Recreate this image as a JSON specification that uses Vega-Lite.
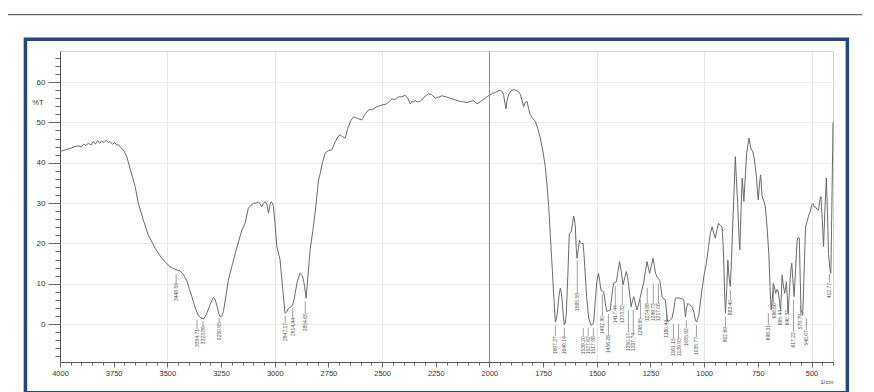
{
"$schema": "https://vega.github.io/schema/vega-lite/v6.json",
"width": 773, "height": 311,
"autosize": {"type": "none"},
"padding": {"left": 60, "top": 51, "right": 41, "bottom": 30},
"background": "white",
"config": {"view": {"stroke": "#d4d4d4", "strokeWidth": 1}, "font": "Liberation Sans"},
"datasets": {
"spectrum": [
{"wn":4000,"T":42.8},{"wn":3975,"T":43.2},{"wn":3950,"T":43.6},{"wn":3930,"T":44.0},{"wn":3915,"T":44.2},{"wn":3900,"T":44.0},{"wn":3890,"T":44.6},{"wn":3880,"T":44.3},{"wn":3868,"T":44.8},{"wn":3855,"T":44.4},{"wn":3845,"T":45.3},{"wn":3835,"T":44.6},{"wn":3825,"T":45.5},{"wn":3815,"T":44.8},{"wn":3806,"T":45.4},{"wn":3795,"T":45.0},{"wn":3785,"T":45.6},{"wn":3775,"T":45.0},{"wn":3767,"T":45.2},{"wn":3755,"T":44.6},{"wn":3745,"T":45.0},{"wn":3735,"T":44.3},{"wn":3728,"T":44.5},{"wn":3718,"T":43.8},{"wn":3705,"T":43.2},{"wn":3697,"T":42.4},{"wn":3689,"T":41.5},{"wn":3674,"T":38.6},{"wn":3660,"T":36.0},{"wn":3650,"T":34.1},{"wn":3635,"T":29.9},{"wn":3612,"T":25.8},{"wn":3589,"T":22.1},{"wn":3557,"T":18.8},{"wn":3530,"T":16.6},{"wn":3511,"T":15.5},{"wn":3490,"T":14.3},{"wn":3472,"T":13.8},{"wn":3455,"T":13.4},{"wn":3441,"T":13.2},{"wn":3425,"T":12.2},{"wn":3410,"T":10.9},{"wn":3398,"T":8.8},{"wn":3386,"T":6.8},{"wn":3370,"T":4.0},{"wn":3356,"T":2.2},{"wn":3344,"T":1.6},{"wn":3332,"T":1.3},{"wn":3322,"T":2.0},{"wn":3316,"T":2.7},{"wn":3300,"T":5.0},{"wn":3286,"T":6.6},{"wn":3278,"T":6.2},{"wn":3270,"T":4.7},{"wn":3260,"T":2.5},{"wn":3254,"T":1.8},{"wn":3246,"T":2.0},{"wn":3239,"T":3.1},{"wn":3230,"T":6.0},{"wn":3216,"T":10.9},{"wn":3200,"T":14.2},{"wn":3184,"T":17.5},{"wn":3168,"T":20.5},{"wn":3153,"T":23.3},{"wn":3138,"T":25.0},{"wn":3123,"T":28.7},{"wn":3110,"T":29.5},{"wn":3099,"T":29.9},{"wn":3085,"T":30.0},{"wn":3076,"T":30.3},{"wn":3068,"T":29.8},{"wn":3060,"T":29.1},{"wn":3052,"T":30.0},{"wn":3045,"T":30.3},{"wn":3037,"T":29.8},{"wn":3029,"T":27.5},{"wn":3022,"T":29.5},{"wn":3017,"T":30.3},{"wn":3010,"T":30.0},{"wn":3006,"T":29.1},{"wn":2998,"T":24.5},{"wn":2990,"T":19.2},{"wn":2975,"T":15.9},{"wn":2965,"T":10.0},{"wn":2952,"T":2.7},{"wn":2944,"T":3.0},{"wn":2936,"T":3.9},{"wn":2925,"T":4.3},{"wn":2917,"T":4.7},{"wn":2910,"T":6.0},{"wn":2905,"T":7.6},{"wn":2895,"T":10.5},{"wn":2882,"T":12.6},{"wn":2872,"T":12.0},{"wn":2866,"T":10.9},{"wn":2860,"T":9.0},{"wn":2854,"T":6.4},{"wn":2845,"T":12.0},{"wn":2835,"T":18.4},{"wn":2823,"T":23.0},{"wn":2812,"T":27.5},{"wn":2796,"T":35.7},{"wn":2788,"T":37.4},{"wn":2778,"T":40.0},{"wn":2765,"T":42.4},{"wn":2750,"T":43.0},{"wn":2734,"T":43.2},{"wn":2720,"T":45.0},{"wn":2705,"T":46.5},{"wn":2695,"T":46.9},{"wn":2685,"T":46.5},{"wn":2672,"T":46.1},{"wn":2660,"T":48.5},{"wn":2645,"T":50.5},{"wn":2633,"T":51.4},{"wn":2615,"T":51.0},{"wn":2594,"T":50.6},{"wn":2580,"T":52.0},{"wn":2563,"T":53.1},{"wn":2545,"T":53.2},{"wn":2524,"T":53.9},{"wn":2501,"T":54.3},{"wn":2478,"T":54.6},{"wn":2465,"T":55.3},{"wn":2454,"T":55.8},{"wn":2440,"T":55.7},{"wn":2424,"T":56.3},{"wn":2408,"T":56.4},{"wn":2392,"T":56.7},{"wn":2380,"T":56.0},{"wn":2369,"T":54.6},{"wn":2360,"T":55.3},{"wn":2355,"T":55.0},{"wn":2346,"T":55.4},{"wn":2335,"T":55.1},{"wn":2322,"T":55.2},{"wn":2305,"T":56.2},{"wn":2284,"T":57.1},{"wn":2270,"T":56.9},{"wn":2253,"T":56.0},{"wn":2240,"T":56.2},{"wn":2221,"T":56.6},{"wn":2200,"T":56.3},{"wn":2183,"T":56.0},{"wn":2160,"T":55.6},{"wn":2136,"T":55.2},{"wn":2120,"T":55.1},{"wn":2105,"T":54.9},{"wn":2090,"T":55.2},{"wn":2074,"T":55.4},{"wn":2058,"T":54.6},{"wn":2040,"T":55.2},{"wn":2020,"T":56.0},{"wn":2000,"T":56.8},{"wn":1985,"T":57.2},{"wn":1973,"T":57.4},{"wn":1960,"T":57.8},{"wn":1950,"T":58.0},{"wn":1940,"T":57.6},{"wn":1934,"T":56.8},{"wn":1927,"T":54.5},{"wn":1923,"T":53.3},{"wn":1918,"T":55.5},{"wn":1911,"T":56.9},{"wn":1900,"T":57.8},{"wn":1888,"T":58.1},{"wn":1876,"T":58.0},{"wn":1864,"T":57.6},{"wn":1855,"T":56.8},{"wn":1849,"T":55.6},{"wn":1841,"T":53.9},{"wn":1833,"T":55.0},{"wn":1825,"T":55.2},{"wn":1818,"T":53.5},{"wn":1810,"T":51.9},{"wn":1798,"T":51.0},{"wn":1786,"T":50.2},{"wn":1775,"T":48.5},{"wn":1763,"T":46.1},{"wn":1750,"T":42.5},{"wn":1740,"T":39.0},{"wn":1732,"T":34.5},{"wn":1724,"T":29.1},{"wn":1716,"T":21.5},{"wn":1708,"T":14.2},{"wn":1700,"T":6.5},{"wn":1693,"T":0.5},{"wn":1688,"T":1.2},{"wn":1684,"T":2.7},{"wn":1676,"T":7.0},{"wn":1670,"T":8.9},{"wn":1665,"T":7.8},{"wn":1660,"T":5.0},{"wn":1655,"T":1.5},{"wn":1651,"T":-0.2},{"wn":1646,"T":0.5},{"wn":1642,"T":2.7},{"wn":1635,"T":12.0},{"wn":1628,"T":22.5},{"wn":1619,"T":22.9},{"wn":1613,"T":25.0},{"wn":1608,"T":26.8},{"wn":1604,"T":25.8},{"wn":1600,"T":24.1},{"wn":1596,"T":19.0},{"wn":1592,"T":16.3},{"wn":1586,"T":18.5},{"wn":1581,"T":20.8},{"wn":1576,"T":20.2},{"wn":1572,"T":20.0},{"wn":1564,"T":20.0},{"wn":1560,"T":17.5},{"wn":1556,"T":14.2},{"wn":1547,"T":6.5},{"wn":1538,"T":1.5},{"wn":1527,"T":-0.3},{"wn":1515,"T":0.2},{"wn":1507,"T":6.0},{"wn":1500,"T":10.5},{"wn":1492,"T":12.6},{"wn":1486,"T":10.5},{"wn":1481,"T":8.4},{"wn":1468,"T":8.0},{"wn":1460,"T":5.0},{"wn":1453,"T":3.1},{"wn":1445,"T":3.3},{"wn":1437,"T":3.5},{"wn":1430,"T":7.0},{"wn":1422,"T":10.1},{"wn":1415,"T":10.3},{"wn":1409,"T":10.5},{"wn":1402,"T":13.0},{"wn":1394,"T":15.5},{"wn":1386,"T":13.0},{"wn":1378,"T":9.7},{"wn":1370,"T":11.5},{"wn":1362,"T":13.0},{"wn":1356,"T":11.5},{"wn":1351,"T":9.3},{"wn":1345,"T":6.5},{"wn":1340,"T":4.3},{"wn":1334,"T":5.8},{"wn":1328,"T":6.8},{"wn":1320,"T":5.0},{"wn":1313,"T":3.5},{"wn":1305,"T":5.0},{"wn":1297,"T":6.8},{"wn":1290,"T":8.5},{"wn":1282,"T":10.1},{"wn":1274,"T":13.0},{"wn":1266,"T":15.5},{"wn":1260,"T":14.0},{"wn":1254,"T":12.6},{"wn":1246,"T":14.5},{"wn":1238,"T":16.3},{"wn":1232,"T":14.5},{"wn":1227,"T":12.6},{"wn":1217,"T":11.5},{"wn":1207,"T":10.9},{"wn":1200,"T":8.5},{"wn":1196,"T":6.8},{"wn":1190,"T":6.3},{"wn":1181,"T":6.0},{"wn":1175,"T":3.0},{"wn":1170,"T":0.6},{"wn":1160,"T":0.9},{"wn":1150,"T":1.4},{"wn":1142,"T":3.5},{"wn":1134,"T":6.4},{"wn":1122,"T":6.5},{"wn":1111,"T":6.4},{"wn":1100,"T":6.2},{"wn":1095,"T":6.0},{"wn":1087,"T":1.8},{"wn":1082,"T":4.0},{"wn":1077,"T":5.1},{"wn":1068,"T":4.8},{"wn":1056,"T":4.3},{"wn":1048,"T":3.0},{"wn":1041,"T":1.0},{"wn":1035,"T":0.5},{"wn":1025,"T":2.2},{"wn":1015,"T":6.5},{"wn":1002,"T":11.7},{"wn":990,"T":15.0},{"wn":980,"T":19.0},{"wn":971,"T":22.5},{"wn":963,"T":24.1},{"wn":955,"T":22.5},{"wn":948,"T":21.3},{"wn":940,"T":23.5},{"wn":933,"T":25.0},{"wn":925,"T":24.5},{"wn":917,"T":24.1},{"wn":912,"T":20.0},{"wn":909,"T":15.9},{"wn":905,"T":8.0},{"wn":901,"T":2.7},{"wn":895,"T":8.5},{"wn":890,"T":15.9},{"wn":883,"T":11.0},{"wn":878,"T":9.3},{"wn":872,"T":17.0},{"wn":866,"T":25.8},{"wn":860,"T":34.0},{"wn":855,"T":41.5},{"wn":850,"T":36.0},{"wn":844,"T":29.9},{"wn":838,"T":22.0},{"wn":834,"T":18.4},{"wn":829,"T":27.0},{"wn":823,"T":36.2},{"wn":819,"T":33.5},{"wn":815,"T":30.4},{"wn":808,"T":37.0},{"wn":802,"T":42.4},{"wn":796,"T":44.5},{"wn":791,"T":46.1},{"wn":786,"T":44.5},{"wn":781,"T":43.2},{"wn":775,"T":43.0},{"wn":768,"T":41.5},{"wn":762,"T":39.0},{"wn":756,"T":36.2},{"wn":752,"T":33.0},{"wn":748,"T":30.8},{"wn":742,"T":35.0},{"wn":737,"T":37.0},{"wn":733,"T":34.0},{"wn":730,"T":31.6},{"wn":722,"T":30.5},{"wn":715,"T":29.1},{"wn":707,"T":24.0},{"wn":699,"T":17.5},{"wn":693,"T":9.0},{"wn":688,"T":3.5},{"wn":683,"T":6.0},{"wn":678,"T":10.1},{"wn":672,"T":9.0},{"wn":667,"T":7.6},{"wn":662,"T":8.5},{"wn":656,"T":8.4},{"wn":650,"T":6.0},{"wn":644,"T":3.5},{"wn":640,"T":8.0},{"wn":637,"T":12.2},{"wn":631,"T":9.5},{"wn":625,"T":7.6},{"wn":621,"T":9.0},{"wn":617,"T":10.5},{"wn":613,"T":7.0},{"wn":609,"T":2.7},{"wn":604,"T":7.0},{"wn":600,"T":10.9},{"wn":596,"T":13.5},{"wn":592,"T":15.1},{"wn":587,"T":11.0},{"wn":581,"T":6.8},{"wn":574,"T":14.0},{"wn":567,"T":20.8},{"wn":562,"T":21.5},{"wn":557,"T":21.3},{"wn":553,"T":12.0},{"wn":549,"T":3.5},{"wn":541,"T":2.2},{"wn":535,"T":12.0},{"wn":528,"T":24.1},{"wn":520,"T":25.5},{"wn":513,"T":27.0},{"wn":505,"T":28.0},{"wn":500,"T":29.5},{"wn":493,"T":29.9},{"wn":487,"T":29.0},{"wn":482,"T":29.1},{"wn":475,"T":28.5},{"wn":467,"T":28.3},{"wn":462,"T":30.5},{"wn":456,"T":31.6},{"wn":450,"T":26.0},{"wn":444,"T":19.2},{"wn":438,"T":28.0},{"wn":431,"T":36.2},{"wn":426,"T":28.0},{"wn":421,"T":17.5},{"wn":414,"T":13.5},{"wn":410,"T":12.6},{"wn":405,"T":30.0},{"wn":400,"T":50.0}
],
"peaks": [
{"wn":3459,"lead":12.4,"top":10.2,"label":"3448.59"},
{"wn":3362,"lead":1.0,"top":-1.2,"label":"3354.71"},
{"wn":3334,"lead":0.7,"top":-0.5,"label":"3323.89"},
{"wn":3259,"lead":1.5,"top":0.5,"label":"3250.95"},
{"wn":2951,"lead":2.0,"top":0.3,"label":"2947.17"},
{"wn":2916,"lead":4.0,"top":1.5,"label":"2914.44"},
{"wn":2858,"lead":5.6,"top":2.7,"label":"2854.65"},
{"wn":1693,"lead":-0.3,"top":-3.0,"label":"1697.37"},
{"wn":1651,"lead":-0.9,"top":-3.0,"label":"1649.14"},
{"wn":1591,"lead":15.8,"top":7.7,"label":"1585.59"},
{"wn":1563,"lead":-1.0,"top":-3.0,"label":"1539.20"},
{"wn":1540,"lead":-1.0,"top":-3.0,"label":"1527.62"},
{"wn":1516,"lead":-1.0,"top":-3.0,"label":"1517.98"},
{"wn":1474,"lead":7.3,"top":2.0,"label":"1492.90"},
{"wn":1446,"lead":2.5,"top":-2.7,"label":"1456.26"},
{"wn":1414,"lead":9.5,"top":4.7,"label":"1417.44"},
{"wn":1381,"lead":9.5,"top":4.7,"label":"1373.32"},
{"wn":1353,"lead":3.5,"top":-2.2,"label":"1350.17"},
{"wn":1330,"lead":3.5,"top":-2.2,"label":"1337.74"},
{"wn":1297,"lead":6.0,"top":1.5,"label":"1298.95"},
{"wn":1265,"lead":9.0,"top":5.2,"label":"1274.88"},
{"wn":1237,"lead":10.0,"top":5.2,"label":"1249.73"},
{"wn":1213,"lead":10.0,"top":5.2,"label":"1217.08"},
{"wn":1176,"lead":2.5,"top":1.0,"label":"1180.44"},
{"wn":1143,"lead":0.0,"top":-3.5,"label":"1161.15"},
{"wn":1119,"lead":0.0,"top":-3.5,"label":"1139.93"},
{"wn":1083,"lead":1.0,"top":-1.0,"label":"1085.92"},
{"wn":1036,"lead":-0.3,"top":-3.2,"label":"1035.77"},
{"wn":901,"lead":1.8,"top":-0.7,"label":"902.69"},
{"wn":878,"lead":8.5,"top":6.0,"label":"883.40"},
{"wn":701,"lead":2.7,"top":-0.2,"label":"698.31"},
{"wn":677,"lead":9.3,"top":5.2,"label":"686.66"},
{"wn":645,"lead":4.8,"top":3.5,"label":"665.44"},
{"wn":612,"lead":4.8,"top":3.5,"label":"640.37"},
{"wn":584,"lead":6.0,"top":-2.0,"label":"617.22"},
{"wn":552,"lead":4.5,"top":2.5,"label":"579.79"},
{"wn":524,"lead":1.5,"top":-1.5,"label":"540.07"},
{"wn":417,"lead":12.5,"top":10.2,"label":"412.77"}
]
},
"layer": [
{
"data": {"name": "spectrum"},
"mark": {"type": "line", "stroke": "#6a6a6a", "strokeWidth": 1, "interpolate": "linear"},
"encoding": {
"x": {"field": "wn", "type": "quantitative", "sort": null, "title": "1/cm",
"scale": {"domain": [4000, 400], "nice": false, "zero": false},
"axis": {"titleFontSize": 6, "titleFontWeight": "normal", "titleColor": "#444", "titleX": 773, "titleY": 19, "titleAlign": "right", "titleBaseline": "middle",
"tickCount": 500,
"values": [4000,3950,3900,3850,3800,3750,3700,3650,3600,3550,3500,3450,3400,3350,3300,3250,3200,3150,3100,3050,3000,2950,2900,2850,2800,2750,2700,2650,2600,2550,2500,2450,2400,2350,2300,2250,2200,2150,2100,2050,2000,1950,1900,1850,1800,1750,1700,1650,1600,1550,1500,1450,1400,1350,1300,1250,1200,1150,1100,1050,1000,950,900,850,800,750,700,650,600,550,500,450,400],
"labelExpr": "datum.value % 250 === 0 ? datum.label : ''", "format": "d",
"labelFontSize": 7.5, "labelColor": "#333", "labelPadding": 2, "labelFlush": false, "labelOverlap": false,
"domainColor": "#555", "tickColor": "#666",
"tickSize": {"condition": {"test": "datum.value % 250 === 0", "value": 5}, "value": 3},
"grid": true, "gridColor": "#e6e6e6",
"gridOpacity": {"condition": {"test": "datum.value % 500 === 0", "value": 1}, "value": 0}}},
"y": {"field": "T", "type": "quantitative", "title": "%T",
"scale": {"domain": [-9.4, 67.7], "nice": false, "zero": false},
"axis": {"titleFontSize": 7.5, "titleFontWeight": "normal", "titleColor": "#333", "titleAngle": 0, "titleX": -17, "titleY": 51, "titleAlign": "right", "titleBaseline": "middle",
"tickCount": 500, "format": "d",
"values": [-8,-6,-4,-2,0,2,4,6,8,10,12,14,16,18,20,22,24,26,28,30,32,34,36,38,40,42,44,46,48,50,52,54,56,58,60,62,64,66],
"labelExpr": "datum.value % 10 === 0 ? datum.label : ''", "labelOverlap": false,
"labelFontSize": 8, "labelColor": "#333", "labelPadding": 3,
"domainColor": "#555", "tickColor": "#666",
"tickSize": {"condition": {"test": "datum.value % 10 === 0", "value": 12}, "value": 5},
"grid": true, "gridColor": "#ececec",
"gridOpacity": {"condition": {"test": "datum.value % 10 === 0", "value": 1}, "value": 0}}}
}
},
{
"data": {"values": [{}]},
"mark": {"type": "rect", "filled": false, "stroke": "#24487a", "strokeWidth": 3.5},
"encoding": {
"x": {"datum": 4161, "type": "quantitative", "title": "1/cm"},
"x2": {"datum": 333},
"y": {"datum": 70.6, "type": "quantitative", "title": "%T"},
"y2": {"datum": -17.0}
}
},
{
"data": {"values": [{}]},
"mark": {"type": "rule", "stroke": "#444", "strokeWidth": 1},
"encoding": {
"x": {"datum": 4242, "type": "quantitative", "title": "1/cm"},
"x2": {"datum": 265},
"y": {"datum": 76.7, "type": "quantitative", "title": "%T"}
}
},
{
"data": {"values": [{}]},
"mark": {"type": "rule", "stroke": "#8a8a8a", "strokeWidth": 1},
"encoding": {
"x": {"datum": 2000, "type": "quantitative", "title": "1/cm"}
}
},
{
"data": {"name": "peaks"},
"mark": {"type": "rule", "stroke": "#777", "strokeWidth": 0.7},
"encoding": {
"x": {"field": "wn", "type": "quantitative", "title": "1/cm"},
"y": {"field": "lead", "type": "quantitative", "title": "%T"},
"y2": {"field": "top"}
}
},
{
"data": {"name": "peaks"},
"mark": {"type": "text", "angle": 270, "align": "right", "baseline": "middle", "fontSize": 5, "fill": "#555"},
"encoding": {
"x": {"field": "wn", "type": "quantitative", "title": "1/cm"},
"y": {"field": "top", "type": "quantitative", "title": "%T"},
"text": {"field": "label"}
}
}
]
}
